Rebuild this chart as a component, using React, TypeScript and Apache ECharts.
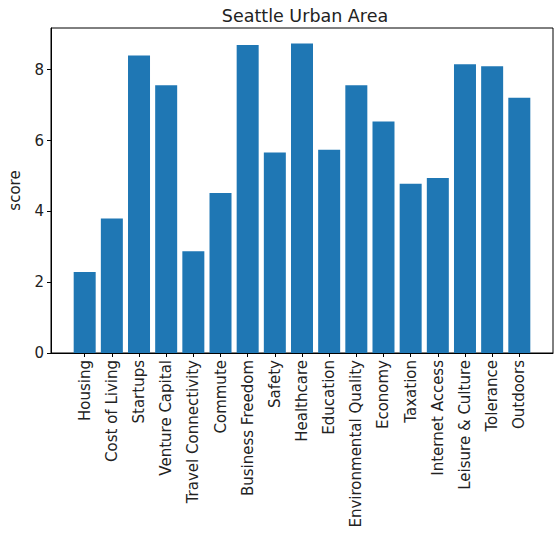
import React, { useEffect, useRef } from "react";
import * as echarts from "echarts";

const categories = [
  "Housing",
  "Cost of Living",
  "Startups",
  "Venture Capital",
  "Travel Connectivity",
  "Commute",
  "Business Freedom",
  "Safety",
  "Healthcare",
  "Education",
  "Environmental Quality",
  "Economy",
  "Taxation",
  "Internet Access",
  "Leisure & Culture",
  "Tolerance",
  "Outdoors",
];

const scores = [2.29, 3.8, 8.4, 7.56, 2.87, 4.52, 8.7, 5.66, 8.74, 5.74, 7.56, 6.54, 4.78, 4.94, 8.15, 8.1, 7.21];

const yTicks = [0, 2, 4, 6, 8];

export default function App() {
  const ref = useRef<HTMLDivElement>(null);

  useEffect(() => {
    document.body.style.margin = "0";
    if (!ref.current) return;
    const chart = echarts.init(ref.current, undefined, { renderer: "svg" });
    const n = categories.length;
    const maxV = Math.max(...scores);
    const span = n - 1 + 0.8;
    const xMin = -0.4 - 0.05 * span;
    const xMax = n - 1 + 0.4 + 0.05 * span;
    const idx = categories.map((_, i) => i);
    const font = "DejaVu Sans";
    chart.setOption({
      animation: false,
      backgroundColor: "#fff",
      textStyle: { fontFamily: font },
      title: {
        text: "Seattle Urban Area",
        left: 300,
        textAlign: "center",
        top: 2,
        textStyle: { fontFamily: font, fontSize: 17.5, fontWeight: "normal", color: "#222" },
      },
      grid: {
        left: 51,
        right: 6,
        top: 28,
        bottom: 190,
        containLabel: false,
        outerBoundsMode: "none",
        show: true,
        borderColor: "#000",
        borderWidth: 1,
        backgroundColor: "transparent",
      },
      xAxis: {
        type: "value",
        min: xMin,
        max: xMax,
        splitLine: { show: false },
        axisLine: { show: true, onZero: false, lineStyle: { color: "#000", width: 1 } },
        axisTick: { show: true, length: 4, customValues: idx, lineStyle: { color: "#000" } },
        axisLabel: {
          customValues: idx,
          rotate: 90,
          margin: 7,
          fontSize: 15,
          fontFamily: font,
          color: "#222",
          formatter: (v: number) => categories[Math.round(v)] ?? "",
        },
      },
      yAxis: {
        type: "value",
        min: 0,
        max: maxV * 1.05,
        name: "score",
        nameLocation: "middle",
        nameGap: 29,
        nameTextStyle: { fontFamily: font, fontSize: 15, color: "#222" },
        splitLine: { show: false },
        axisLine: { show: true, onZero: false, lineStyle: { color: "#000", width: 1 } },
        axisTick: { show: true, length: 4, customValues: yTicks, lineStyle: { color: "#000" } },
        axisLabel: {
          customValues: yTicks,
          margin: 7,
          fontSize: 15,
          fontFamily: font,
          color: "#222",
        },
      },
      series: [
        {
          type: "bar",
          data: scores.map((v, i) => [i, v]),
          barWidth: 22,
          itemStyle: { color: "#1f77b4" },
        },
      ],
    });
    return () => chart.dispose();
  }, []);

  return <div ref={ref} style={{ width: 559, height: 543 }} />;
}
